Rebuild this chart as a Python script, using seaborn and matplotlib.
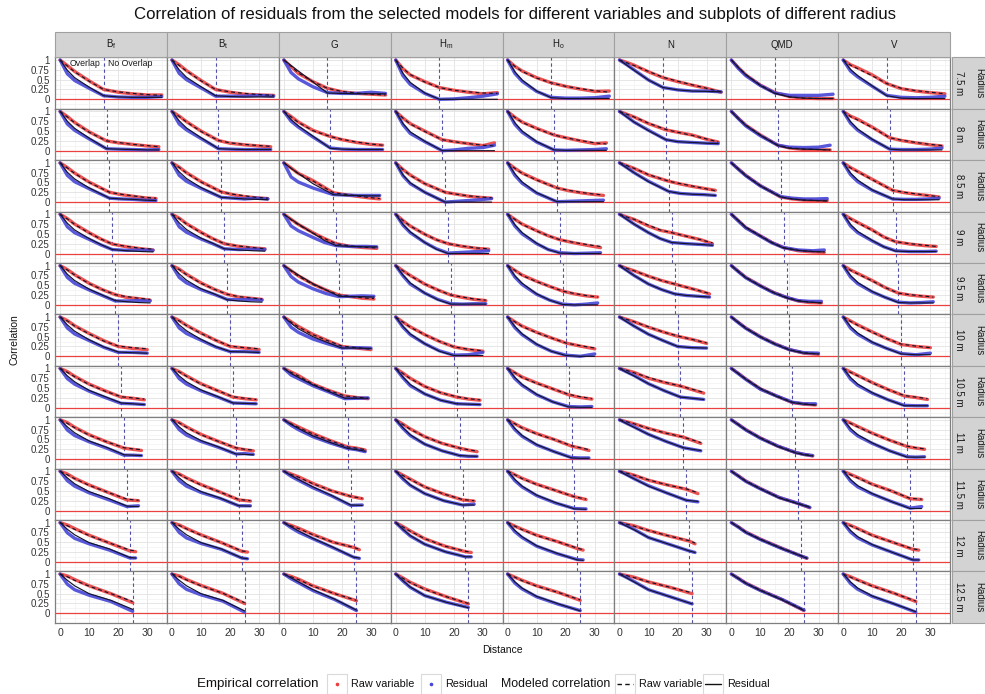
import sys
import numpy as np
import pandas as pd
import matplotlib
matplotlib.use("Agg")
import matplotlib.pyplot as plt
import seaborn as sns
from matplotlib.patches import Rectangle
from matplotlib.lines import Line2D

# ---------------- data ----------------
variables = ["Bf", "Bt", "G", "Hm", "Ho", "N", "QMD", "V"]
var_labels = [r"B$_\mathregular{f}$", r"B$_\mathregular{t}$", "G", r"H$_\mathregular{m}$",
              r"H$_\mathregular{o}$", "N", "QMD", "V"]
radii = [7.5, 8, 8.5, 9, 9.5, 10, 10.5, 11, 11.5, 12, 12.5]
radius_labels = ["7.5 m", "8 m", "8.5 m", "9 m", "9.5 m", "10 m", "10.5 m", "11 m", "11.5 m", "12 m", "12.5 m"]
overlap_limit = [15, 16, 17, 18, 19, 20, 21, 22, 23, 24, 25]

distances = [
    [0, 2.5, 5, 10, 15, 20, 25, 30, 35],
    [0, 2.5, 5, 10, 16, 20, 25, 30, 34],
    [0, 2.5, 5, 10, 17, 21, 25, 29, 33],
    [0, 2.5, 5, 10, 14, 18, 23, 28, 32],
    [0, 2.5, 5, 10, 14.5, 19, 23, 27, 31],
    [0, 2.5, 5, 10, 15, 20, 25, 30],
    [0, 2.5, 5, 10, 15.5, 21, 25, 29],
    [0, 2.5, 5, 10, 16, 22, 25, 28],
    [0, 2.5, 5, 10, 16.5, 23, 27],
    [0, 2.5, 5, 10, 17, 24, 26],
    [0, 2.5, 5, 10, 17.5, 25],
]

# ---- Bf ----
bf_raw = [[1,.86,.71,.47,.25,.18,.14,.11,.11],[1,.87,.72,.48,.25,.20,.16,.12,.10],[1,.88,.74,.51,.25,.19,.15,.11,.09],
          [1,.89,.75,.53,.37,.24,.17,.12,.09],[1,.90,.77,.55,.39,.26,.19,.16,.12],[1,.91,.78,.58,.40,.25,.20,.17],
          [1,.92,.80,.60,.43,.27,.24,.20],[1,.93,.81,.62,.44,.28,.25,.22],[1,.93,.82,.65,.46,.27,.25],
          [1,.94,.85,.68,.48,.28,.26],[1,.95,.86,.70,.50,.27]]
bf_res = [[1,.65,.48,.28,.09,.06,.05,.05,.07],[1,.68,.52,.30,.05,.04,.03,.02,.03],[1,.68,.52,.34,.10,.08,.07,.05,.04],
          [1,.68,.53,.36,.22,.10,.08,.09,.08],[1,.70,.55,.38,.24,.10,.10,.11,.10],[1,.72,.57,.40,.23,.10,.10,.08],
          [1,.74,.60,.42,.26,.11,.10,.08],[1,.74,.60,.44,.28,.10,.10,.09],[1,.76,.62,.45,.28,.10,.12],
          [1,.74,.60,.46,.30,.10,.10],[1,.74,.60,.46,.30,.05]]
bf_raw_fit = [[1,.85,.70,.46,.25,.19,.15,.12,.10],[1,.86,.71,.47,.25,.21,.16,.13,.10],[1,.87,.73,.50,.25,.20,.16,.12,.10],
              [1,.88,.74,.52,.37,.24,.18,.13,.11],[1,.89,.76,.54,.39,.26,.21,.17,.14],[1,.90,.77,.57,.39,.26,.22,.19],
              [1,.90,.79,.59,.42,.28,.25,.22],[1,.91,.80,.61,.44,.29,.26,.24],[1,.91,.81,.64,.46,.29,.26],
              [1,.92,.83,.67,.48,.30,.28],[1,.93,.84,.69,.50,.30]]
bf_res_fit = [[1,.74,.55,.31,.09,.06,.05,.05,.05],[1,.75,.57,.32,.05,.04,.03,.02,.02],[1,.76,.59,.36,.10,.08,.07,.05,.04],
              [1,.77,.60,.38,.23,.10,.07,.05,.04],[1,.78,.62,.40,.25,.11,.08,.06,.05],[1,.80,.64,.42,.24,.11,.09,.08],
              [1,.81,.66,.44,.28,.12,.10,.08],[1,.82,.67,.46,.30,.11,.10,.09],[1,.83,.68,.48,.31,.11,.10],
              [1,.83,.69,.49,.33,.11,.10],[1,.84,.70,.50,.33,.10]]

# ---- Bt ----
bt_raw = [[1,.88,.73,.48,.25,.18,.13,.11,.10],[1,.88,.74,.50,.26,.19,.15,.12,.10],[1,.89,.75,.52,.26,.19,.14,.11,.09],
          [1,.90,.76,.54,.38,.25,.18,.14,.12],[1,.91,.78,.56,.40,.27,.20,.17,.14],[1,.91,.79,.59,.41,.25,.21,.17],
          [1,.92,.81,.61,.44,.27,.23,.20],[1,.93,.82,.63,.45,.28,.24,.21],[1,.93,.83,.66,.47,.27,.24],
          [1,.94,.85,.69,.49,.27,.25],[1,.95,.86,.71,.51,.25]]
bt_res = [[1,.66,.50,.29,.08,.08,.08,.10,.08],[1,.68,.53,.31,.05,.04,.03,.03,.03],[1,.68,.53,.35,.12,.10,.08,.10,.08],
          [1,.68,.54,.37,.25,.12,.10,.11,.10],[1,.70,.56,.39,.27,.14,.13,.14,.12],[1,.72,.58,.41,.24,.12,.12,.10],
          [1,.74,.60,.43,.28,.12,.11,.10],[1,.75,.61,.45,.30,.13,.14,.12],[1,.76,.62,.46,.31,.12,.12],
          [1,.75,.61,.47,.32,.10,.08],[1,.75,.61,.47,.31,.03]]
bt_raw_fit = [[1,.86,.72,.47,.25,.19,.15,.12,.10],[1,.87,.73,.49,.26,.20,.16,.13,.11],[1,.88,.74,.51,.26,.20,.16,.12,.10],
              [1,.89,.75,.53,.38,.25,.19,.15,.12],[1,.90,.77,.55,.40,.27,.21,.18,.15],[1,.90,.78,.58,.41,.26,.22,.19],
              [1,.91,.80,.60,.44,.28,.24,.21],[1,.92,.81,.62,.45,.29,.25,.23],[1,.92,.82,.65,.47,.28,.25],
              [1,.93,.84,.68,.49,.28,.26],[1,.94,.85,.70,.51,.27]]
bt_res_fit = [[1,.75,.56,.32,.09,.07,.06,.06,.06],[1,.76,.58,.33,.05,.04,.03,.03,.03],[1,.77,.60,.37,.12,.10,.08,.07,.06],
              [1,.78,.61,.39,.26,.12,.09,.07,.06],[1,.79,.63,.41,.28,.13,.10,.08,.07],[1,.80,.65,.43,.25,.12,.11,.10],
              [1,.81,.66,.45,.29,.12,.11,.10],[1,.82,.67,.47,.31,.13,.12,.11],[1,.83,.68,.48,.32,.12,.11],
              [1,.83,.69,.49,.33,.10,.08],[1,.84,.70,.50,.33,.06]]

# ---- G ----
g_raw = [[1,.83,.66,.45,.28,.19,.15,.13,.11],[1,.87,.73,.52,.36,.28,.21,.16,.14],[1,.87,.73,.55,.24,.19,.15,.11,.08],
         [1,.87,.74,.53,.38,.25,.18,.15,.13],[1,.87,.74,.53,.38,.25,.21,.17,.15],[1,.88,.76,.56,.40,.25,.21,.17],
         [1,.91,.82,.60,.44,.30,.26,.23],[1,.91,.82,.65,.47,.31,.28,.23],[1,.93,.86,.69,.50,.36,.30],
         [1,.93,.86,.70,.50,.37,.31],[1,.94,.87,.70,.50,.32]]
g_res = [[1,.68,.52,.32,.17,.15,.15,.18,.15],[1,.75,.60,.35,.07,.04,.03,.03,.03],[1,.64,.51,.36,.19,.18,.17,.17,.17],
         [1,.70,.58,.41,.28,.20,.18,.18,.17],[1,.72,.58,.41,.29,.21,.22,.23,.22],[1,.74,.61,.44,.32,.21,.22,.21],
         [1,.83,.74,.56,.40,.23,.24,.25],[1,.86,.75,.57,.41,.27,.24,.19],[1,.87,.77,.58,.37,.13,.14],
         [1,.87,.76,.59,.36,.12,.09],[1,.88,.78,.58,.35,.07]]
g_raw_fit = [[1,.84,.67,.45,.28,.20,.16,.13,.11],[1,.86,.72,.51,.36,.29,.22,.17,.14],[1,.86,.72,.54,.24,.20,.16,.12,.09],
             [1,.86,.73,.52,.38,.25,.19,.16,.14],[1,.86,.73,.52,.38,.25,.22,.18,.16],[1,.87,.75,.55,.40,.26,.22,.18],
             [1,.90,.81,.60,.44,.30,.27,.24],[1,.90,.81,.64,.47,.31,.28,.24],[1,.92,.85,.68,.50,.36,.31],
             [1,.92,.85,.69,.50,.37,.32],[1,.93,.86,.69,.50,.33]]
g_res_fit = [[1,.86,.72,.44,.16,.15,.14,.14,.14],[1,.79,.63,.37,.06,.04,.03,.03,.03],[1,.86,.73,.47,.19,.17,.17,.16,.16],
             [1,.87,.75,.52,.33,.20,.18,.17,.17],[1,.88,.76,.54,.38,.22,.21,.21,.20],[1,.84,.70,.50,.35,.21,.21,.20],
             [1,.87,.77,.58,.41,.24,.24,.24],[1,.88,.78,.59,.42,.27,.24,.20],[1,.89,.79,.60,.38,.14,.13],
             [1,.89,.79,.60,.37,.12,.10],[1,.90,.80,.60,.36,.08]]

# ---- Hm ----
hm_raw = [[1,.78,.62,.45,.30,.23,.18,.14,.17],[1,.83,.69,.50,.28,.23,.18,.13,.20],[1,.83,.69,.47,.25,.20,.15,.12,.10],
          [1,.84,.70,.49,.35,.25,.18,.13,.11],[1,.87,.75,.53,.38,.25,.19,.14,.11],[1,.87,.75,.55,.38,.24,.17,.13],
          [1,.88,.75,.54,.38,.27,.22,.19],[1,.89,.77,.57,.40,.28,.23,.19],[1,.90,.80,.60,.42,.27,.24],
          [1,.90,.79,.59,.40,.26,.24],[1,.90,.79,.62,.42,.24]]
hm_res = [[1,.60,.38,.15,.0,.01,.04,.08,.14],[1,.66,.44,.23,.0,.02,.06,.08,.14],[1,.67,.47,.25,.0,.02,.04,.06,.09],
          [1,.72,.53,.28,.12,.01,.03,.05,.07],[1,.74,.53,.30,.14,.03,.02,.03,.03],[1,.74,.55,.32,.14,.03,.04,.10],
          [1,.76,.56,.35,.19,.10,.09,.08],[1,.78,.60,.38,.21,.09,.07,.07],[1,.80,.64,.43,.25,.14,.16],
          [1,.82,.66,.45,.26,.13,.13],[1,.82,.66,.45,.28,.15]]
hm_raw_fit = [[1,.79,.63,.44,.30,.23,.19,.16,.15],[1,.83,.68,.49,.28,.23,.18,.14,.12],[1,.83,.68,.47,.25,.20,.16,.13,.11],
              [1,.84,.70,.49,.35,.25,.19,.14,.12],[1,.87,.74,.53,.38,.25,.20,.15,.12],[1,.87,.74,.55,.38,.24,.18,.14],
              [1,.87,.74,.54,.38,.28,.23,.20],[1,.88,.76,.57,.40,.28,.24,.20],[1,.89,.79,.60,.42,.28,.25],
              [1,.89,.78,.59,.40,.27,.25],[1,.89,.78,.61,.42,.25]]
hm_res_fit = [[1,.66,.43,.16,.0,.0,.0,.0,.0],[1,.69,.48,.24,.0,.0,.0,.0,.0],[1,.69,.49,.25,.0,.0,.0,.0,.0],
              [1,.74,.55,.28,.11,.0,.0,.0,.0],[1,.76,.56,.30,.13,.02,.02,.02,.02],[1,.76,.57,.32,.13,.02,.02,.02],
              [1,.78,.59,.35,.19,.10,.09,.08],[1,.80,.62,.38,.21,.09,.08,.07],[1,.82,.65,.43,.25,.14,.14],
              [1,.83,.67,.45,.26,.13,.13],[1,.83,.67,.45,.28,.14]]

# ---- Ho ----
ho_raw = [[1,.84,.72,.55,.42,.33,.26,.20,.21],[1,.85,.73,.57,.40,.33,.25,.18,.20],[1,.86,.74,.57,.36,.29,.24,.20,.17],
          [1,.87,.75,.58,.45,.35,.27,.20,.15],[1,.88,.76,.60,.47,.35,.28,.23,.20],[1,.88,.77,.61,.47,.34,.26,.19],
          [1,.89,.78,.63,.48,.33,.26,.22],[1,.90,.80,.65,.50,.33,.28,.22],[1,.91,.82,.67,.51,.35,.28],
          [1,.91,.83,.68,.52,.34,.30],[1,.92,.84,.70,.53,.33]]
ho_res = [[1,.66,.46,.20,.05,.03,.03,.04,.08],[1,.67,.47,.22,.02,.01,.02,.03,.05],[1,.68,.48,.23,.01,.02,.03,.04,.05],
          [1,.70,.50,.25,.10,.02,.0,.01,.02],[1,.71,.52,.27,.12,.02,.0,.02,.05],[1,.73,.55,.30,.13,.03,.0,.06],
          [1,.74,.57,.33,.15,.03,.02,.03],[1,.75,.58,.36,.19,.04,.03,.03],[1,.76,.60,.38,.19,.05,.04],
          [1,.77,.62,.40,.21,.06,.05],[1,.77,.62,.42,.23,.07]]
ho_raw_fit = [[1,.84,.71,.54,.42,.33,.27,.22,.18],[1,.85,.72,.56,.40,.33,.26,.20,.17],[1,.86,.73,.56,.36,.30,.25,.21,.18],
              [1,.87,.74,.57,.45,.35,.28,.22,.18],[1,.88,.75,.59,.47,.35,.29,.24,.20],[1,.88,.76,.60,.47,.34,.27,.21],
              [1,.89,.77,.62,.48,.34,.28,.23],[1,.90,.79,.64,.50,.34,.29,.24],[1,.91,.81,.66,.51,.35,.29],
              [1,.91,.82,.67,.52,.35,.31],[1,.92,.83,.69,.53,.34]]
ho_res_fit = [[1,.70,.49,.21,.04,.02,.02,.02,.02],[1,.71,.50,.23,.02,.01,.01,.01,.01],[1,.72,.51,.24,.01,.01,.01,.01,.01],
              [1,.73,.53,.26,.10,.01,.0,.0,.0],[1,.74,.55,.28,.12,.01,.0,.0,.0],[1,.76,.57,.31,.13,.02,.0,.0],
              [1,.77,.59,.34,.15,.02,.01,.01],[1,.78,.60,.37,.19,.03,.02,.02],[1,.79,.62,.39,.20,.04,.03],
              [1,.80,.64,.41,.22,.05,.04],[1,.80,.64,.43,.24,.06]]

# ---- N ----
n_raw = [[1,.94,.87,.70,.55,.45,.36,.28,.18],[1,.93,.86,.69,.53,.47,.40,.29,.22],[1,.93,.86,.69,.53,.46,.40,.35,.30],
         [1,.93,.87,.70,.59,.53,.44,.35,.25],[1,.93,.87,.73,.62,.53,.45,.37,.28],[1,.94,.88,.74,.62,.51,.43,.33],
         [1,.95,.90,.75,.64,.55,.46,.37],[1,.95,.90,.78,.66,.56,.48,.40],[1,.95,.90,.77,.65,.54,.43],
         [1,.96,.92,.80,.66,.53,.46],[1,.96,.92,.80,.66,.50]]
n_res = [[1,.88,.75,.49,.30,.24,.21,.21,.19],[1,.87,.73,.52,.28,.23,.21,.19,.18],[1,.88,.75,.53,.27,.22,.20,.19,.17],
         [1,.88,.75,.53,.38,.28,.25,.23,.21],[1,.88,.75,.53,.39,.28,.24,.22,.20],[1,.89,.77,.56,.40,.25,.22,.21],
         [1,.91,.82,.61,.43,.27,.24,.21],[1,.91,.82,.63,.45,.29,.25,.21],[1,.91,.81,.63,.44,.26,.22],
         [1,.92,.83,.62,.45,.28,.24],[1,.91,.81,.60,.42,.24]]
n_raw_fit = [[1,.93,.86,.71,.56,.46,.37,.28,.19],[1,.93,.86,.70,.54,.47,.39,.30,.22],[1,.93,.86,.70,.53,.47,.41,.35,.29],
             [1,.93,.87,.72,.60,.53,.44,.35,.27],[1,.93,.87,.73,.62,.53,.45,.37,.29],[1,.94,.88,.75,.62,.52,.43,.34],
             [1,.95,.89,.77,.65,.55,.47,.39],[1,.95,.90,.78,.66,.56,.49,.42],[1,.95,.90,.78,.65,.55,.45],
             [1,.96,.91,.80,.66,.54,.48],[1,.96,.91,.80,.66,.52]]
n_res_fit = [[1,.87,.74,.49,.30,.24,.21,.20,.19],[1,.86,.73,.51,.28,.23,.21,.19,.18],[1,.87,.75,.52,.27,.22,.20,.19,.17],
             [1,.87,.75,.53,.38,.28,.25,.23,.21],[1,.87,.75,.53,.39,.28,.24,.22,.20],[1,.88,.77,.56,.40,.25,.22,.21],
             [1,.90,.81,.61,.43,.27,.24,.21],[1,.90,.81,.63,.45,.29,.25,.22],[1,.90,.81,.62,.44,.26,.23],
             [1,.91,.82,.62,.45,.28,.24],[1,.90,.80,.60,.42,.24]]

# ---- QMD ----
qmd_raw = [[1,.80,.62,.36,.17,.07,.03,.02,.02],[1,.82,.65,.40,.14,.07,.03,.02,.02],[1,.84,.68,.42,.13,.08,.05,.04,.04],
           [1,.83,.66,.45,.28,.15,.07,.04,.03],[1,.85,.70,.49,.32,.19,.10,.06,.05],[1,.86,.72,.50,.32,.17,.08,.05],
           [1,.87,.73,.48,.30,.13,.09,.07],[1,.88,.75,.54,.33,.17,.12,.08],[1,.88,.75,.56,.33,.18,.07],
           [1,.89,.76,.58,.36,.15,.09],[1,.89,.77,.59,.35,.07]]
qmd_res = [[1,.78,.60,.35,.16,.10,.10,.10,.13],[1,.81,.63,.38,.14,.09,.08,.09,.14],[1,.83,.67,.41,.14,.10,.08,.08,.09],
           [1,.82,.65,.44,.27,.15,.09,.07,.09],[1,.84,.69,.48,.31,.19,.11,.09,.09],[1,.85,.71,.49,.31,.17,.09,.08],
           [1,.86,.72,.47,.30,.14,.10,.10],[1,.87,.74,.53,.33,.17,.12,.09],[1,.87,.74,.55,.33,.18,.08],
           [1,.88,.75,.57,.35,.15,.10],[1,.88,.76,.58,.35,.08]]
qmd_raw_fit = [[1,.81,.63,.36,.16,.06,.03,.02,.02],[1,.82,.65,.40,.14,.07,.04,.03,.02],[1,.84,.68,.42,.13,.08,.05,.04,.03],
               [1,.84,.67,.45,.28,.15,.08,.05,.04],[1,.85,.70,.49,.32,.19,.11,.07,.05],[1,.86,.72,.50,.32,.17,.09,.06],
               [1,.87,.73,.49,.30,.14,.10,.07],[1,.88,.75,.54,.33,.17,.12,.09],[1,.88,.75,.56,.33,.18,.09],
               [1,.89,.76,.58,.36,.16,.10],[1,.89,.77,.59,.35,.08]]
qmd_res_fit = [[1,.80,.62,.35,.15,.06,.03,.02,.02],[1,.81,.64,.39,.13,.06,.04,.03,.02],[1,.83,.67,.41,.13,.08,.05,.04,.03],
               [1,.83,.66,.44,.27,.14,.08,.05,.04],[1,.84,.69,.48,.31,.18,.10,.07,.05],[1,.85,.71,.49,.31,.16,.08,.06],
               [1,.86,.72,.48,.29,.13,.09,.07],[1,.87,.74,.53,.32,.16,.11,.08],[1,.87,.74,.55,.32,.17,.08],
               [1,.88,.75,.57,.35,.15,.09],[1,.88,.76,.58,.34,.07]]

# ---- V ----
v_raw = [[1,.88,.80,.62,.40,.27,.21,.17,.14],[1,.88,.80,.60,.33,.26,.20,.15,.12],[1,.88,.78,.58,.30,.24,.20,.17,.13],
         [1,.89,.79,.60,.42,.30,.24,.20,.18],[1,.89,.80,.62,.44,.30,.25,.22,.20],[1,.90,.80,.62,.45,.30,.25,.22],
         [1,.91,.82,.64,.46,.30,.26,.21],[1,.92,.83,.66,.48,.32,.28,.25],[1,.92,.84,.67,.50,.30,.28],
         [1,.93,.85,.68,.50,.32,.30],[1,.93,.85,.70,.51,.30]]
v_res = [[1,.72,.57,.33,.10,.05,.04,.05,.08],[1,.70,.52,.28,.04,.03,.03,.04,.07],[1,.70,.52,.30,.08,.07,.07,.08,.10],
         [1,.70,.53,.32,.17,.07,.05,.05,.06],[1,.71,.54,.33,.19,.07,.05,.06,.08],[1,.72,.56,.35,.20,.07,.04,.08],
         [1,.73,.57,.37,.20,.06,.05,.05],[1,.74,.59,.40,.21,.06,.05,.06],[1,.75,.60,.42,.23,.06,.10],
         [1,.76,.61,.43,.24,.05,.05],[1,.76,.61,.43,.24,.03]]
v_raw_fit = [[1,.87,.78,.60,.40,.28,.22,.18,.14],[1,.87,.78,.59,.33,.27,.21,.16,.13],[1,.87,.77,.57,.30,.25,.21,.17,.14],
             [1,.88,.78,.59,.42,.30,.25,.21,.18],[1,.88,.79,.61,.44,.30,.26,.23,.20],[1,.89,.79,.61,.45,.31,.26,.22],
             [1,.90,.81,.63,.46,.31,.27,.23],[1,.91,.82,.65,.48,.33,.29,.26],[1,.91,.83,.66,.50,.31,.29],
             [1,.92,.84,.67,.50,.33,.31],[1,.92,.84,.69,.51,.31]]
v_res_fit = [[1,.76,.60,.34,.09,.03,.02,.02,.02],[1,.74,.55,.29,.04,.02,.02,.02,.02],[1,.74,.56,.31,.08,.06,.06,.06,.06],
             [1,.74,.56,.33,.17,.06,.05,.05,.05],[1,.75,.57,.34,.19,.06,.05,.05,.05],[1,.76,.59,.36,.20,.06,.04,.04],
             [1,.77,.60,.38,.20,.05,.05,.05],[1,.78,.62,.41,.21,.05,.05,.05],[1,.79,.63,.43,.23,.05,.05],
             [1,.80,.64,.44,.24,.05,.05],[1,.80,.64,.44,.24,.04]]

series_by_var = {
    "Bf": (bf_raw, bf_res, bf_raw_fit, bf_res_fit),
    "Bt": (bt_raw, bt_res, bt_raw_fit, bt_res_fit),
    "G": (g_raw, g_res, g_raw_fit, g_res_fit),
    "Hm": (hm_raw, hm_res, hm_raw_fit, hm_res_fit),
    "Ho": (ho_raw, ho_res, ho_raw_fit, ho_res_fit),
    "N": (n_raw, n_res, n_raw_fit, n_res_fit),
    "QMD": (qmd_raw, qmd_res, qmd_raw_fit, qmd_res_fit),
    "V": (v_raw, v_res, v_raw_fit, v_res_fit),
}

records = []
for v in variables:
    parts = series_by_var[v]
    kinds = [("Empirical", "Raw variable"), ("Empirical", "Residual"),
             ("Modeled", "Raw variable"), ("Modeled", "Residual")]
    for (src, ser), arr in zip(kinds, parts):
        for i, r in enumerate(radii):
            if len(arr[i]) != len(distances[i]):
                print("length mismatch", v, src, ser, r, file=sys.stderr)
            for d, val in zip(distances[i], arr[i]):
                records.append((v, r, src, ser, d, val))
df = pd.DataFrame(records, columns=["variable", "radius", "source", "series", "distance", "correlation"])

# ---------------- style ----------------
sns.set_theme(style="white")
plt.rcParams["font.family"] = ["Liberation Sans", "DejaVu Sans"]
plt.rcParams["mathtext.fontset"] = "custom"
plt.rcParams["mathtext.rm"] = "Liberation Sans"

W, H = 985, 694
fig, axes = plt.subplots(11, 8, figsize=(W / 100, H / 100), dpi=100, sharex=True, sharey=True)
fig.subplots_adjust(left=55 / W, right=950 / W, top=1 - 57.3 / H, bottom=1 - 622.7 / H, wspace=0, hspace=0)

RED = "#EA4040"
BLUE = "#4646D8"
emp_pal = {"Raw variable": RED, "Residual": BLUE}
TXT = "#333333"

for i, r in enumerate(radii):
    for j, v in enumerate(variables):
        ax = axes[i, j]
        sub = df[(df.radius == r) & (df.variable == v)]
        ax.set_xlim(-1.75, 36.75)
        ax.set_ylim(-0.239, 1.069)
        ax.set_xticks([0, 10, 20, 30])
        ax.set_xticks([5, 15, 25, 35], minor=True)
        ax.set_yticks([0, 0.25, 0.5, 0.75, 1])
        ax.set_yticklabels(["0", "0.25", "0.5", "0.75", "1"])
        ax.set_yticks([-0.125, 0.125, 0.375, 0.625, 0.875], minor=True)
        ax.grid(which="major", color="#E2E2E2", lw=0.6, zorder=0)
        ax.grid(which="minor", color="#F0F0F0", lw=0.45, zorder=0)
        ax.set_axisbelow(True)
        ax.tick_params(which="minor", length=0)
        ax.tick_params(which="major", length=2.5, width=0.6, color="#555555", pad=1.2)
        ax.tick_params(axis="y", labelsize=7, labelcolor=TXT)
        ax.tick_params(axis="x", labelsize=7.6, labelcolor=TXT)
        ax.axhline(0, color=RED, lw=0.9, zorder=1)
        ax.axvline(overlap_limit[i], color="#5050AA", lw=0.8, ls=(0, (3, 2.5)), zorder=1)
        sns.lineplot(data=sub[sub.source == "Empirical"], x="distance", y="correlation",
                     hue="series", hue_order=["Raw variable", "Residual"], palette=emp_pal,
                     estimator=None, lw=2.4, alpha=0.9, legend=False, ax=ax, zorder=2)
        sns.lineplot(data=sub[sub.source == "Modeled"], x="distance", y="correlation",
                     style="series", style_order=["Raw variable", "Residual"],
                     dashes={"Raw variable": (3.2, 2.6), "Residual": ""}, color="#14142A",
                     estimator=None, lw=0.85, legend=False, ax=ax, zorder=3)
        ax.set_xlabel("")
        ax.set_ylabel("")
        for s in ax.spines.values():
            s.set_color("#7F7F7F")
            s.set_linewidth(0.9)

# overlap annotation
axes[0, 0].text(13.8, 0.9, "Overlap", ha="right", va="center", fontsize=6.3, color="#1A1A1A")
axes[0, 0].text(16.4, 0.9, "No Overlap", ha="left", va="center", fontsize=6.3, color="#1A1A1A")

# top strips
strip_h = 25.6 / 51.4
for j, lab in enumerate(var_labels):
    ax = axes[0, j]
    ax.add_patch(Rectangle((0, 1), 1, strip_h, transform=ax.transAxes, clip_on=False,
                           fc="#D3D3D3", ec="#A0A0A0", lw=0.8, zorder=5))
    ax.text(0.5, 1 + strip_h / 2, lab, transform=ax.transAxes, ha="center", va="center",
            fontsize=7, color="#1A1A1A", zorder=6)

# right strips
for i, lab in enumerate(radius_labels):
    ax = axes[i, -1]
    ax.add_patch(Rectangle((1.018, 0), 0.6, 1, transform=ax.transAxes, clip_on=False,
                           fc="#D3D3D3", ec="#A0A0A0", lw=0.8, zorder=5))
    ax.text(1.018 + 6.5 / 112, 0.5, lab, transform=ax.transAxes, rotation=-90,
            ha="center", va="center", fontsize=7, color="#1A1A1A", zorder=6)
    ax.text(1.018 + 27 / 112, 0.5, "Radius", transform=ax.transAxes, rotation=-90,
            ha="center", va="center", fontsize=7, color="#1A1A1A", zorder=6)

# titles and axis labels
fig.text(515 / W, 1 - 15 / H, "Correlation of residuals from the selected models for different variables and subplots of different radius",
         ha="center", va="center", fontsize=12.1, color="#111111")
fig.text(15 / W, 1 - 340 / H, "Correlation", rotation=90, ha="center", va="center", fontsize=7.5, color="#111111")
fig.text(502 / W, 1 - 650 / H, "Distance", ha="center", va="center", fontsize=7.5, color="#111111")

# legend (manual, ggplot-like)
def fx(px):
    return px / W

def fy(py):
    return 1 - py / H

ly = 684
fig.text(fx(197), fy(ly), "Empirical correlation", ha="left", va="center", fontsize=9.6, color="#111111")
fig.text(fx(501), fy(ly), "Modeled correlation", ha="left", va="center", fontsize=8.9, color="#111111")
keys = [(327, "Raw variable", "dot", RED), (421, "Residual", "dot", BLUE),
        (615, "Raw variable", "dash", "#111111"), (703, "Residual", "solid", "#111111")]
for kx, lab, kind, col in keys:
    fig.add_artist(Rectangle((fx(kx), fy(ly + 10)), 20 / W, 20 / H, transform=fig.transFigure,
                             fc="white", ec="#DADADA", lw=0.8))
    if kind == "dot":
        fig.add_artist(Line2D([fx(kx + 10)], [fy(ly)], marker="o", ms=1.6, color=col, lw=0,
                              transform=fig.transFigure))
    elif kind == "dash":
        fig.add_artist(Line2D([fx(kx + 2), fx(kx + 18)], [fy(ly), fy(ly)], color=col, lw=1.0,
                              ls=(0, (3.2, 2.4)), transform=fig.transFigure))
    else:
        fig.add_artist(Line2D([fx(kx + 2), fx(kx + 18)], [fy(ly), fy(ly)], color=col, lw=1.0,
                              transform=fig.transFigure))
    fig.text(fx(kx + 24), fy(ly), lab, ha="left", va="center", fontsize=7.8, color="#111111")

fig.savefig("out.png", dpi=100)
